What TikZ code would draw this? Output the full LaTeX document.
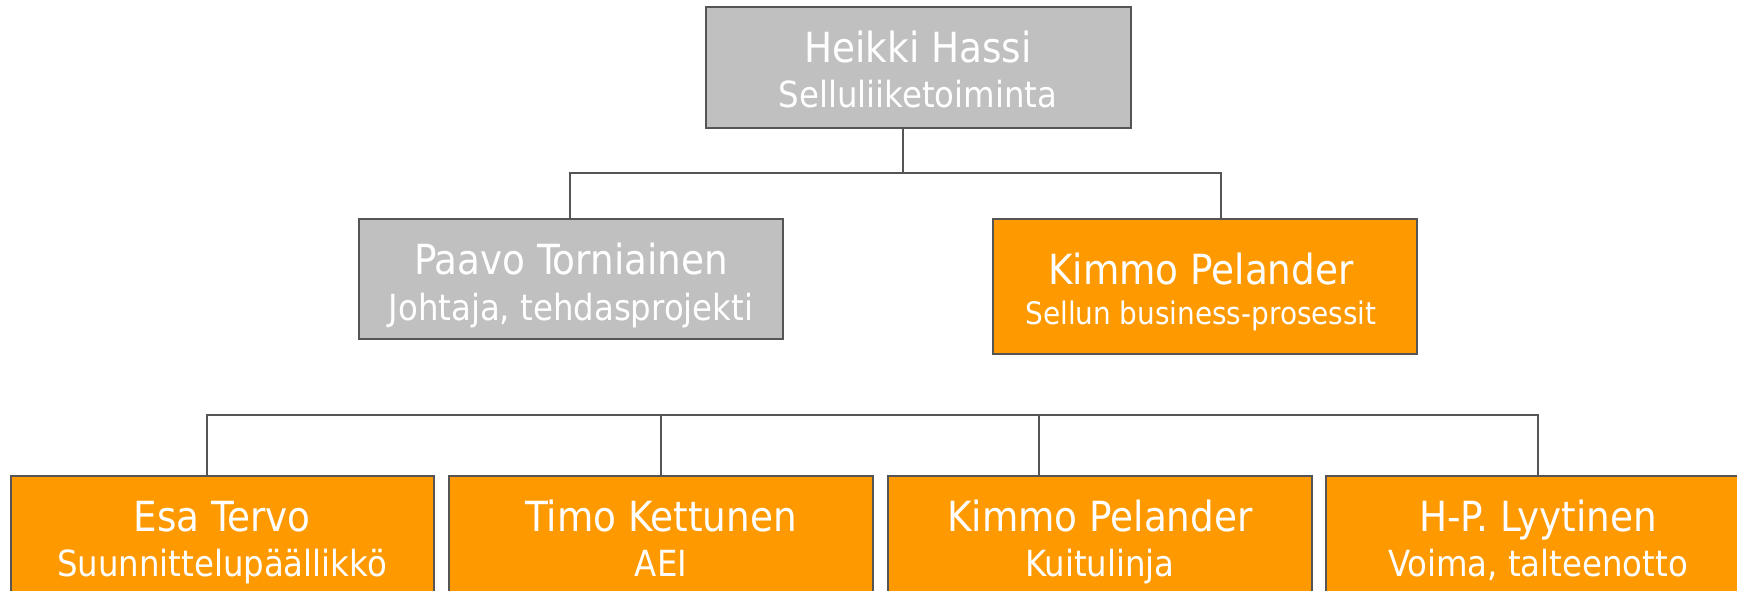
\documentclass[tikz,border=0pt]{standalone}
\usepackage{fontspec}
\IfFontExistsTF{DejaVu Sans Condensed}{\setmainfont{DejaVu Sans Condensed}}{\setmainfont[FakeStretch=0.9]{DejaVu Sans}}
\definecolor{boxgray}{HTML}{C0C0C0}
\definecolor{boxorange}{HTML}{FF9900}
\definecolor{edgegray}{HTML}{555555}
\tikzset{
  orgbox/.style={draw=edgegray, line width=2pt, inner sep=0pt},
  graybox/.style={orgbox, fill=boxgray},
  orangebox/.style={orgbox, fill=boxorange},
  nametext/.style={text=white, anchor=base, inner sep=0pt, font=\fontsize{41.5}{41.5}\selectfont},
  subtext/.style={text=white, anchor=base, inner sep=0pt, font=\fontsize{36}{36}\selectfont},
  smallsub/.style={text=white, anchor=base, inner sep=0pt, font=\fontsize{31}{31}\selectfont},
  link/.style={draw=edgegray, line width=1.6pt}
}
\begin{document}
\begin{tikzpicture}[x=1pt,y=-1pt]
\useasboundingbox (0,0) rectangle (1737,590);
\clip (0,0) rectangle (1737,590);
% connectors
\coordinate (topout) at (903,128);
\coordinate (topbus) at (903,173);
\coordinate (paavoin) at (570,219);
\coordinate (kimmoin) at (1221,219);
\coordinate (busL) at (207,415);
\coordinate (busR) at (1538,415);
\coordinate (esain) at (207,476);
\coordinate (timoin) at (661,476);
\coordinate (kimmobin) at (1039,476);
\coordinate (hpin) at (1538,476);
\draw[link] (topout) -- (topbus);
\draw[link] (paavoin) |- (topbus) -| (kimmoin);
\draw[link] (esain) |- (busR) -- (hpin);
\draw[link] (timoin) -- (timoin |- busL);
\draw[link] (kimmobin) -- (kimmobin |- busL);
% boxes
\path[graybox] (706,7) rectangle (1131,128) node[pos=0.5,inner sep=0pt] (top) {};
\path[graybox] (359,219) rectangle (783,339) node[pos=0.5,inner sep=0pt] (paavo) {};
\path[orangebox] (993,219) rectangle (1417,354) node[pos=0.5,inner sep=0pt] (kimmoa) {};
\path[orangebox] (11,476) rectangle (434,600) node[pos=0.5,inner sep=0pt] (esa) {};
\path[orangebox] (449,476) rectangle (873,600) node[pos=0.5,inner sep=0pt] (timo) {};
\path[orangebox] (888,476) rectangle (1312,600) node[pos=0.5,inner sep=0pt] (kimmob) {};
\path[orangebox] (1326,476) rectangle (1750,600) node[pos=0.5,inner sep=0pt] (hp) {};
% texts
\node[nametext] (topname) at (918,62) {Heikki Hassi};
\node[subtext] (toprole) at (918,107) {Selluliiketoiminta};
\node[nametext] (paavoname) at (571,274) {Paavo Torniainen};
\node[subtext] (paavorole) at (571,320) {Johtaja, tehdasprojekti};
\node[nametext] (kimmoaname) at (1201,284) {Kimmo Pelander};
\node[smallsub] (kimmoarole) at (1201,324) {Sellun business-prosessit};
\node[nametext] (esaname) at (222,531) {Esa Tervo};
\node[subtext] (esarole) at (222,576) {Suunnittelupäällikkö};
\node[nametext] (timoname) at (661,531) {Timo Kettunen};
\node[subtext] (timorole) at (661,576) {AEI};
\node[nametext] (kimmobname) at (1100,531) {Kimmo Pelander};
\node[subtext] (kimmobrole) at (1100,576) {Kuitulinja};
\node[nametext] (hpname) at (1538,531) {H-P. Lyytinen};
\node[subtext] (hprole) at (1538,576) {Voima, talteenotto};
\end{tikzpicture}
\end{document}
